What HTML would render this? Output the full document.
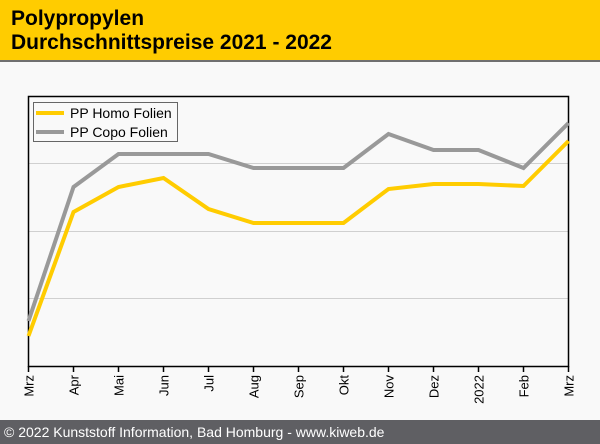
<!DOCTYPE html>
<html><head><meta charset="utf-8"><style>
body{margin:0;width:600px;height:444px;background:#f9f9f9;font-family:"Liberation Sans",Arial,sans-serif;overflow:hidden;position:relative}
.hd{position:absolute;left:0;top:0;width:600px;height:60px;background:#ffcc00;border-bottom:2px solid #707070}
.hd div{position:absolute;left:11px;font-weight:bold;font-size:21px;color:#000}
.ft{position:absolute;left:0;top:420px;width:600px;height:24px;background:#5f5f63;color:#fff;font-size:14px;line-height:24px;padding-left:4px;box-sizing:border-box}
</style></head><body>
<div class="hd"><div style="top:7px">Polypropylen</div><div style="top:31px">Durchschnittspreise 2021 - 2022</div></div>
<svg width="600" height="444" style="position:absolute;left:0;top:0" font-family="Liberation Sans, Arial, sans-serif">
<g stroke="#d0d0d0" stroke-width="1">
<line x1="29" y1="163.5" x2="568" y2="163.5"/><line x1="29" y1="231.5" x2="568" y2="231.5"/><line x1="29" y1="298.5" x2="568" y2="298.5"/>
</g>
<rect x="28.5" y="96.5" width="540" height="270" fill="none" stroke="#000" stroke-width="1.5"/>
<polyline fill="none" stroke="#999" stroke-width="4" stroke-linejoin="miter" points="28.5,321 73.5,187 118.5,154 163.5,154 208.5,154 253.5,168 298.5,168 343.5,168 388.5,134 433.5,150 478.5,150 523.5,168 568.5,123"/>
<polyline fill="none" stroke="#ffcc00" stroke-width="4" points="28.5,336 73.5,212 118.5,187 163.5,178 208.5,209 253.5,223 298.5,223 343.5,223 388.5,189 433.5,184 478.5,184 523.5,186 568.5,141"/>
<rect x="33.5" y="102.5" width="144" height="39" fill="#f9f9f9" stroke="#666" stroke-width="1"/>
<line x1="36" y1="113" x2="64" y2="113" stroke="#ffcc00" stroke-width="4"/>
<line x1="36" y1="132" x2="64" y2="132" stroke="#999" stroke-width="4"/>
<text x="70" y="118" font-size="14" fill="#000">PP Homo Folien</text>
<text x="70" y="137" font-size="14" fill="#000">PP Copo Folien</text>
<g stroke="#000" stroke-width="1.5">
<line x1="28.5" y1="366" x2="28.5" y2="372"/><line x1="73.5" y1="366" x2="73.5" y2="372"/><line x1="118.5" y1="366" x2="118.5" y2="372"/><line x1="163.5" y1="366" x2="163.5" y2="372"/><line x1="208.5" y1="366" x2="208.5" y2="372"/><line x1="253.5" y1="366" x2="253.5" y2="372"/><line x1="298.5" y1="366" x2="298.5" y2="372"/><line x1="343.5" y1="366" x2="343.5" y2="372"/><line x1="388.5" y1="366" x2="388.5" y2="372"/><line x1="433.5" y1="366" x2="433.5" y2="372"/><line x1="478.5" y1="366" x2="478.5" y2="372"/><line x1="523.5" y1="366" x2="523.5" y2="372"/><line x1="568.5" y1="366" x2="568.5" y2="372"/>
</g>
<g font-size="13" fill="#000" text-anchor="end">
<text transform="translate(33.5,375) rotate(-90)">Mrz</text>
<text transform="translate(78.5,375) rotate(-90)">Apr</text>
<text transform="translate(123.5,375) rotate(-90)">Mai</text>
<text transform="translate(168.5,375) rotate(-90)">Jun</text>
<text transform="translate(213.5,375) rotate(-90)">Jul</text>
<text transform="translate(258.5,375) rotate(-90)">Aug</text>
<text transform="translate(303.5,375) rotate(-90)">Sep</text>
<text transform="translate(348.5,375) rotate(-90)">Okt</text>
<text transform="translate(393.5,375) rotate(-90)">Nov</text>
<text transform="translate(438.5,375) rotate(-90)">Dez</text>
<text transform="translate(483.5,375) rotate(-90)">2022</text>
<text transform="translate(528.5,375) rotate(-90)">Feb</text>
<text transform="translate(573.5,375) rotate(-90)">Mrz</text>
</g>
</svg>
<div class="ft">© 2022 Kunststoff Information, Bad Homburg - www.kiweb.de</div>
</body></html>
